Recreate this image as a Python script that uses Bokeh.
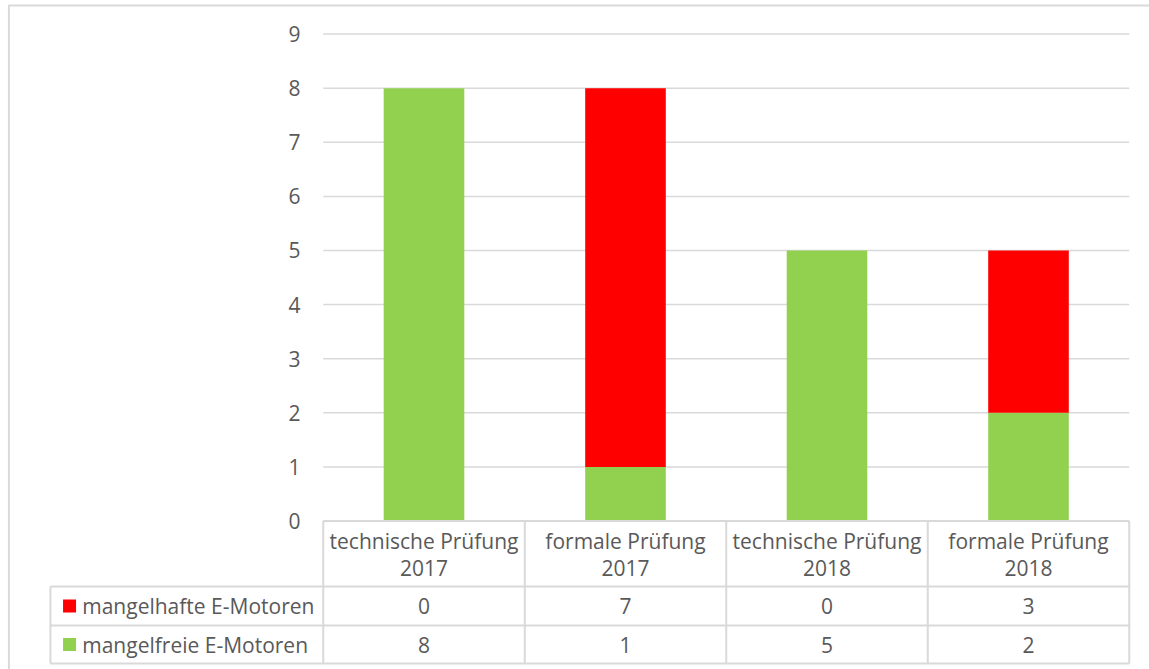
from bokeh.plotting import figure
from bokeh.models import Range1d, ColumnDataSource
from bokeh.core.properties import value
from bokeh.embed import file_html
from bokeh.resources import INLINE

# --- data -------------------------------------------------------------
kinds = ["technische Prüfung", "formale Prüfung", "technische Prüfung", "formale Prüfung"]
years = ["2017", "2017", "2018", "2018"]
series_names = ["mangelhafte E-Motoren", "mangelfreie E-Motoren"]
mangelhaft = [0, 7, 0, 3]
mangelfrei = [8, 1, 5, 2]
y_ticks = [0, 1, 2, 3, 4, 5, 6, 7, 8, 9]

RED = "#FF0000"
GREEN = "#92D050"
GRID = "#D9D9D9"
TXT = "#595959"
FONT = value("Open Sans")
FS = "21px"

n = len(kinds)
centers = [i + 0.5 for i in range(n)]

p = figure(
    width=1149, height=669,
    x_range=Range1d(-1.6017, 4.1005),
    y_range=Range1d(-2.745, 9.621),
    x_axis_type=None, y_axis_type=None,
    toolbar_location=None, output_backend="svg",
    min_border=0, outline_line_color=None,
    background_fill_color="white", border_fill_color="white",
)
p.grid.visible = False

# outer chart border (runs past the right and bottom edges)
p.line(x=[4.3, -1.560, -1.560], y=[9.529, 9.529, -3.0], line_color=GRID, line_width=2)

# horizontal gridlines
p.segment(x0=[0] * len(y_ticks), x1=[n] * len(y_ticks), y0=y_ticks, y1=y_ticks,
          line_color=GRID, line_width=1.5)

# stacked columns
src = ColumnDataSource(dict(x=centers, mangelfrei=mangelfrei, mangelhaft=mangelhaft))
p.vbar_stack(["mangelfrei", "mangelhaft"], x="x", width=0.4, source=src,
             color=[GREEN, RED], line_color=None)

# y tick labels
p.text(x=[-0.113] * len(y_ticks), y=y_ticks, text=[str(t) for t in y_ticks],
       text_align="right", text_baseline="middle",
       text_font=FONT, text_font_size=FS, text_color=TXT)

# data table underneath the plot
hdr_bot, row1_bot, row2_bot = -1.211, -1.932, -2.634
tbl_left = -1.354
# horizontal rules
p.segment(x0=[0, tbl_left, tbl_left, tbl_left], x1=[n] * 4,
          y0=[0, hdr_bot, row1_bot, row2_bot], y1=[0, hdr_bot, row1_bot, row2_bot],
          line_color=GRID, line_width=2)
# vertical rules
p.segment(x0=list(range(n + 1)), x1=list(range(n + 1)),
          y0=[0] * (n + 1), y1=[row2_bot] * (n + 1),
          line_color=GRID, line_width=2)
p.segment(x0=[tbl_left], x1=[tbl_left], y0=[hdr_bot], y1=[row2_bot],
          line_color=GRID, line_width=2)

# header: category names
p.text(x=centers, y=[-0.379] * n, text=kinds, text_align="center", text_baseline="middle",
       text_font=FONT, text_font_size=FS, text_color=TXT)
p.text(x=centers, y=[-0.878] * n, text=years, text_align="center", text_baseline="middle",
       text_font=FONT, text_font_size=FS, text_color=TXT)

# value rows
row_y = [-1.571, -2.283]
for vals, yy in zip([mangelhaft, mangelfrei], row_y):
    p.text(x=centers, y=[yy] * n, text=[str(v) for v in vals],
           text_align="center", text_baseline="middle",
           text_font=FONT, text_font_size=FS, text_color=TXT)

# legend keys + series names in the first column
p.rect(x=[-1.259, -1.259], y=row_y, width=13, height=13,
       width_units="screen", height_units="screen",
       fill_color=[RED, GREEN], line_color=None)
p.text(x=[-1.196, -1.196], y=row_y, text=series_names,
       text_align="left", text_baseline="middle",
       text_font=FONT, text_font_size=FS, text_color=TXT)

open("out.html", "w").write(file_html(p, INLINE))
